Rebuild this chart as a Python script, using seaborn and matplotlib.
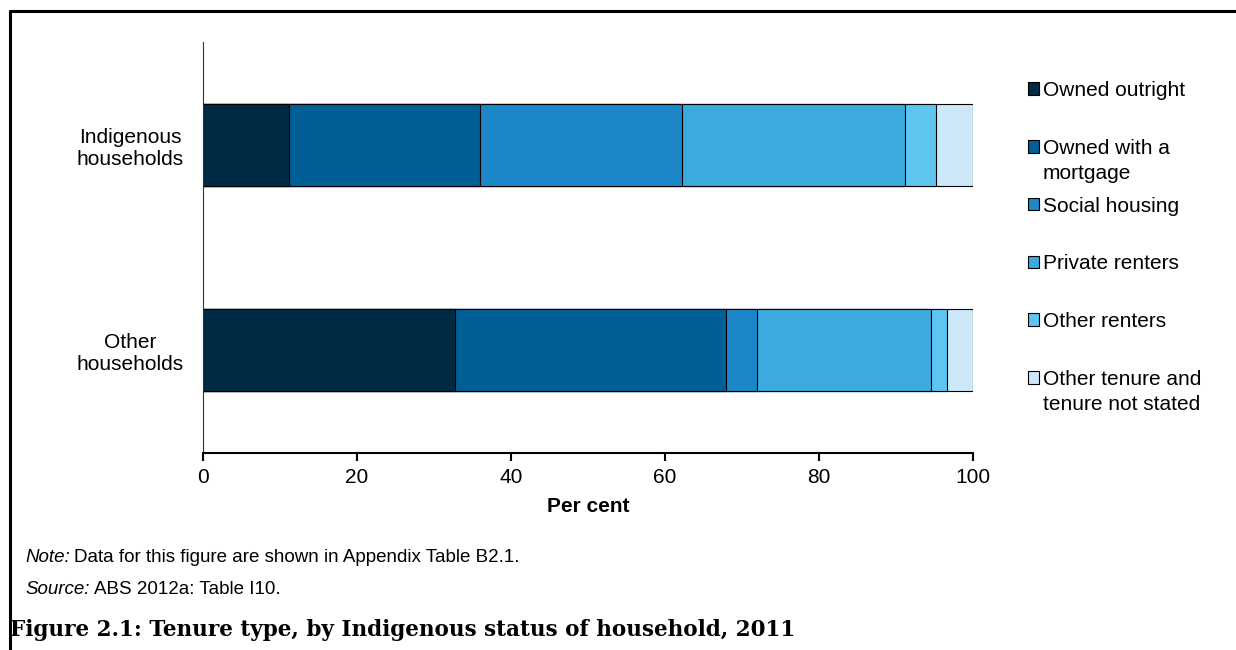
import pandas as pd
import matplotlib.pyplot as plt
import seaborn as sns
import numpy as np
from matplotlib.lines import Line2D
from matplotlib.patches import Patch

# Data (per cent of households)
groups = ["Indigenous\nhouseholds", "Other\nhouseholds"]
tenure = ["Owned outright", "Owned with a\nmortgage", "Social housing",
          "Private renters", "Other renters", "Other tenure and\ntenure not stated"]
indigenous = [11.2, 24.8, 26.2, 29.0, 4.0, 4.8]
other = [32.7, 35.2, 4.0, 22.6, 2.1, 3.4]
colors = ["#002B42", "#025F96", "#1C87C8", "#3AAADF", "#5EC4F0", "#CDE9F9"]

sns.set_style("white")
plt.rcParams['font.family'] = ['Liberation Sans', 'DejaVu Sans']
plt.rcParams['text.color'] = 'black'
plt.rcParams['axes.labelcolor'] = 'black'
plt.rcParams['xtick.color'] = 'black'
plt.rcParams['ytick.color'] = 'black'

df = pd.DataFrame([indigenous, other], columns=tenure)
df.insert(0, "group", groups)
cum = df[tenure].cumsum(axis=1)

fig = plt.figure(figsize=(12.36, 6.5), dpi=100)
ax = fig.add_axes([203 / 1236, 1 - 453 / 650, 770 / 1236, 411 / 650])

# stacked bars: draw cumulative totals from the last segment back to the first
for j in range(len(tenure) - 1, -1, -1):
    sns.barplot(x=cum[tenure[j]], y=df["group"], orient="h", color=colors[j],
                saturation=1, width=0.4, edgecolor="black", linewidth=0.8, ax=ax)

ax.set_xlim(0, 100)
ax.set_xticks(range(0, 101, 20))
ax.set_xlabel("Per cent", fontsize=15, fontweight="bold", labelpad=7)
ax.set_ylabel("")
sns.despine(ax=ax)
ax.spines["left"].set_color("#333333")
ax.spines["bottom"].set_color("black")
ax.spines["bottom"].set_linewidth(1.5)
ax.tick_params(axis="x", direction="out", length=6, width=1.5, labelsize=15,
               pad=5, bottom=True)
ax.tick_params(axis="y", length=0, labelsize=15, pad=14)
for t in ax.get_yticklabels():
    t.set_multialignment("center")

# legend: first lines from the legend, second lines added below
handles = [Patch(facecolor=c, edgecolor="black", linewidth=0.8) for c in colors]
first_lines = [s.split("\n")[0] for s in tenure]
leg = fig.legend(handles, first_lines, loc="upper left",
                 bbox_to_anchor=(1028 / 1236, 1 - 81 / 650), frameon=False,
                 fontsize=15, handlelength=0.55, handleheight=0.55,
                 handletextpad=0.15, labelspacing=1.86, borderpad=0,
                 borderaxespad=0)

fig.canvas.draw()
inv = fig.transFigure.inverted()
for txt, full in zip(leg.get_texts(), tenure):
    parts = full.split("\n")
    if len(parts) > 1:
        bb = txt.get_window_extent()
        x0, y0 = inv.transform((bb.x0, bb.y0 - 25))
        fig.text(x0, y0, parts[1], fontsize=15, ha="left", va="bottom")

# notes and caption
note = fig.text(25 / 1236, 1 - 558 / 650, "Note:", fontsize=13.5, va="center", style="italic")
src = fig.text(25 / 1236, 1 - 589 / 650, "Source:", fontsize=13.5, va="center", style="italic")
fig.canvas.draw()
bb = note.get_window_extent()
fig.text(inv.transform((bb.x1 + 4, 0))[0], 1 - 558 / 650,
         "Data for this figure are shown in Appendix Table B2.1.", fontsize=13.5, va="center")
bb = src.get_window_extent()
fig.text(inv.transform((bb.x1 + 4, 0))[0], 1 - 589 / 650,
         "ABS 2012a: Table I10.", fontsize=13.5, va="center")
fig.text(10 / 1236, 1 - 630 / 650,
         "Figure 2.1: Tenure type, by Indigenous status of household, 2011",
         fontsize=15.5, fontweight="bold", family=["DejaVu Serif"], va="center")

# frame lines along the top and left of the figure
fig.add_artist(Line2D([10 / 1236, 1], [1 - 11 / 650, 1 - 11 / 650],
                      color="black", linewidth=2.2, transform=fig.transFigure))
fig.add_artist(Line2D([10 / 1236, 10 / 1236], [0, 1 - 11 / 650],
                      color="black", linewidth=2.2, transform=fig.transFigure))

fig.savefig("out.png", dpi=100)
